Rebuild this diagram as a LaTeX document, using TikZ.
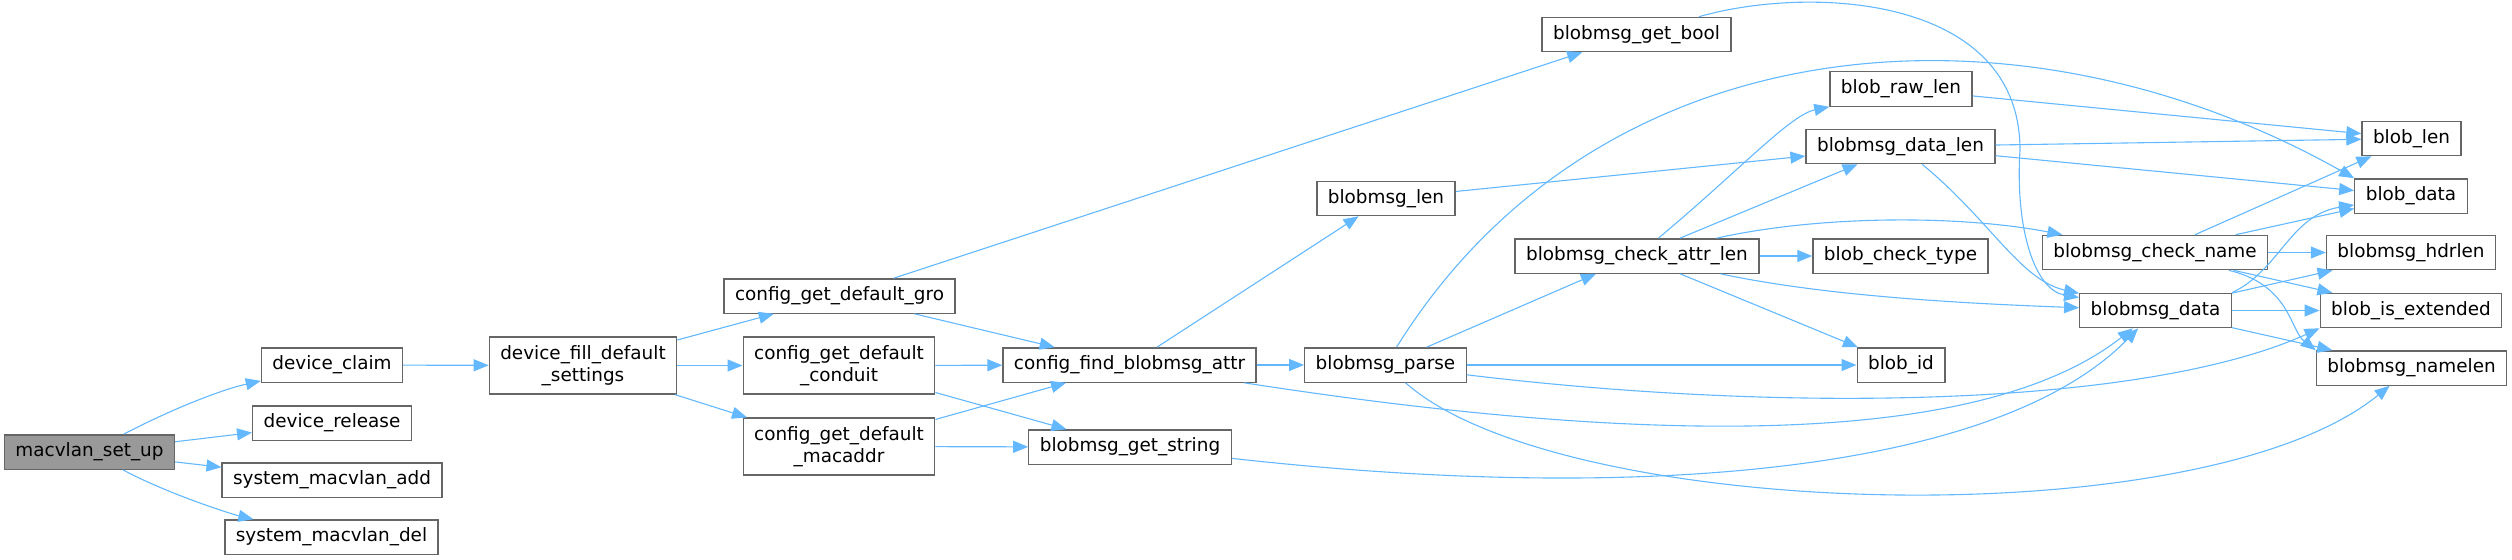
\documentclass[tikz,border=0pt]{standalone}
\usepackage{fontspec}
\setmainfont{DejaVu Sans}
\usetikzlibrary{arrows.meta}
\definecolor{edgeblue}{HTML}{63B8FF}
\definecolor{boxgrey}{HTML}{666666}
\definecolor{mainfill}{HTML}{999999}
\tikzset{
fn/.style={draw=boxgrey,line width=0.65pt,fill=white,inner xsep=5.5pt,inner ysep=4pt,minimum height=17pt,align=center,font=\fontsize{9.2}{11.3}\selectfont},
fnmain/.style={fn,fill=mainfill},
call/.style={draw=edgeblue,line width=0.55pt,-{Triangle[length=7.5pt,width=6pt]}}
}
\begin{document}
\begin{tikzpicture}[x=0.5pt,y=-0.5pt]
\useasboundingbox (0,0) rectangle (2512,559);
\node[fnmain] (setup) at (89.5,452) {macvlan\_set\_up};
\node[fn] (claim) at (332,365) {device\_claim};
\node[fn] (release) at (332,423) {device\_release};
\node[fn] (sysadd) at (332,480) {system\_macvlan\_add};
\node[fn] (sysdel) at (331.5,537) {system\_macvlan\_del};
\node[fn] (filldef) at (583,365.5) {device\_fill\_default\\\_settings};
\node[fn] (cgro) at (839.5,296) {config\_get\_default\_gro};
\node[fn] (cconduit) at (839,365.5) {config\_get\_default\\\_conduit};
\node[fn] (cmacaddr) at (839,446.5) {config\_get\_default\\\_macaddr};
\node[fn] (findattr) at (1129.5,365) {config\_find\_blobmsg\_attr};
\node[fn] (getstring) at (1130,447) {blobmsg\_get\_string};
\node[fn] (bmlen) at (1386,198.5) {blobmsg\_len};
\node[fn] (parse) at (1385.5,365) {blobmsg\_parse};
\node[fn] (getbool) at (1636.5,34.5) {blobmsg\_get\_bool};
\node[fn] (rawlen) at (1901,89) {blob\_raw\_len};
\node[fn] (datalen) at (1900.5,146.5) {blobmsg\_data\_len};
\node[fn] (chkattr) at (1637,256) {blobmsg\_check\_attr\_len};
\node[fn] (chktype) at (1900.5,256) {blob\_check\_type};
\node[fn] (blobid) at (1901,365) {blob\_id};
\node[fn] (chkname) at (2155,252.5) {blobmsg\_check\_name};
\node[fn] (bmdata) at (2155.5,310.5) {blobmsg\_data};
\node[fn] (bloblen) at (2411.5,138.5) {blob\_len};
\node[fn] (blobdata) at (2411,196) {blob\_data};
\node[fn] (hdrlen) at (2411,252.5) {blobmsg\_hdrlen};
\node[fn] (isext) at (2411,310.5) {blob\_is\_extended};
\node[fn] (namelen) at (2411.5,368) {blobmsg\_namelen};
\draw[call] (setup) .. controls (170,410) and (220,390) .. (claim);
\draw[call] (setup) -- (release);
\draw[call] (setup) -- (sysadd);
\draw[call] (setup) .. controls (170,495) and (235,515) .. (sysdel);
\draw[call] (claim) -- (filldef);
\draw[call] (filldef) -- (cgro);
\draw[call] (filldef) -- (cconduit);
\draw[call] (filldef) -- (cmacaddr);
\draw[call] (cgro) -- (getbool);
\draw[call] (cgro) -- (findattr);
\draw[call] (cconduit) -- (findattr);
\draw[call] (cconduit) -- (getstring);
\draw[call] (cmacaddr) -- (findattr);
\draw[call] (cmacaddr) -- (getstring);
\draw[call] (findattr) -- (bmlen);
\draw[call] (findattr) -- (parse);
\draw[call] (findattr) .. controls (1613,440) and (1972,455) .. (bmdata);
\draw[call] (getstring) .. controls (1650,505) and (2000,470) .. (bmdata);
\draw[call] (getbool) .. controls (1810,-15) and (2020,-5) .. (2020,150) .. controls (2015,230) and (2035,290) .. (bmdata);
\draw[call] (bmlen) -- (datalen);
\draw[call] (parse) .. controls (1600,20) and (2020,-10) .. (blobdata.north west);
\draw[call] (parse) -- (chkattr);
\draw[call] (parse) -- (blobid);
\draw[call] (parse) .. controls (1800,415) and (2150,405) .. (isext.south west);
\draw[call] (parse) .. controls (1560,520) and (2200,540) .. (namelen);
\draw[call] (chkattr) .. controls (1740,170) and (1790,115) .. (rawlen.south west);
\draw[call] (chkattr) -- (datalen);
\draw[call] (chkattr) .. controls (1820,215) and (1960,215) .. (chkname);
\draw[call] (chkattr) -- (chktype);
\draw[call] (chkattr) .. controls (1820,295) and (1950,303) .. (bmdata);
\draw[call] (chkattr) -- (blobid);
\draw[call] (rawlen) -- (bloblen);
\draw[call] (datalen) -- (bloblen);
\draw[call] (datalen) -- (blobdata);
\draw[call] (datalen) .. controls (1990,220) and (2020,280) .. (bmdata);
\draw[call] (chkname) -- (bloblen);
\draw[call] (chkname) -- (blobdata);
\draw[call] (chkname) -- (hdrlen);
\draw[call] (chkname) -- (isext);
\draw[call] (chkname) .. controls (2290,285) and (2290,330) .. (namelen.north west);
\draw[call] (bmdata.north east) .. controls (2280,270) and (2290,215) .. (blobdata);
\draw[call] (bmdata) -- (hdrlen);
\draw[call] (bmdata) -- (isext);
\draw[call] (bmdata) -- (namelen);
\end{tikzpicture}
\end{document}
